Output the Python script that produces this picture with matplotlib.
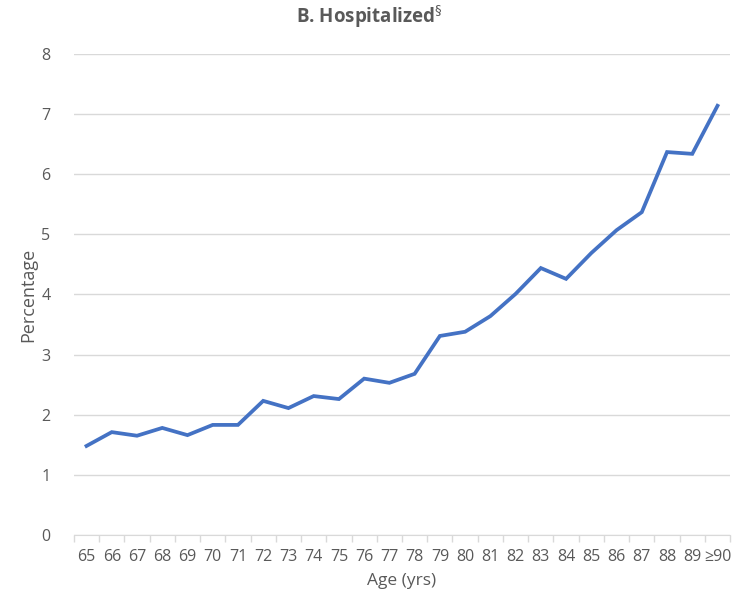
import numpy as np
import matplotlib.pyplot as plt

# data
ages = ['65', '66', '67', '68', '69', '70', '71', '72', '73', '74', '75', '76', '77',
        '78', '79', '80', '81', '82', '83', '84', '85', '86', '87', '88', '89', '≥90']
pct = [1.48, 1.71, 1.65, 1.78, 1.66, 1.83, 1.83, 2.23, 2.11, 2.31, 2.26, 2.60, 2.53,
       2.68, 3.31, 3.38, 3.64, 4.01, 4.44, 4.26, 4.69, 5.07, 5.37, 6.37, 6.34, 7.14]
yticks = [0, 1, 2, 3, 4, 5, 6, 7, 8]

plt.rcParams['font.family'] = ['Open Sans', 'DejaVu Sans']
txt = '#595959'

fig = plt.figure(figsize=(7.39, 6.01), dpi=100)
ax = fig.add_axes([0.100, 0.110, 0.888, 0.800])

x = np.arange(len(ages))
ax.plot(x, pct, color='#4472C4', linewidth=2.7, solid_joinstyle='miter')

ax.set_xlim(-0.5, len(ages) - 0.5)
ax.set_ylim(0, 8)
ax.set_yticks(yticks)
ax.yaxis.grid(True, color='#D9D9D9', linewidth=1)
ax.set_axisbelow(True)

# category labels centred, tick marks between categories
ax.set_xticks(x)
ax.set_xticklabels(ages)
ax.set_xticks(np.arange(-0.5, len(ages)), minor=True)
ax.tick_params(axis='x', which='major', length=0, pad=10, labelsize=11.5, labelcolor=txt)
ax.tick_params(axis='x', which='minor', length=5, color='#D9D9D9', width=1)
ax.tick_params(axis='y', length=0, pad=17, labelsize=11.5, labelcolor=txt)

for s in ['top', 'right', 'left']:
    ax.spines[s].set_visible(False)
ax.spines['bottom'].set_color('#D9D9D9')

ax.set_xlabel('Age (yrs)', fontsize=12.5, color=txt, labelpad=6)
ax.set_ylabel('Percentage', fontsize=13, color=txt)
ax.yaxis.set_label_coords(-0.056, 0.5)

fig.text(0.5, 0.972, r'B. Hospitalized$^{\S}$', ha='center', va='center',
         fontsize=13.5, fontweight='bold', color=txt)

fig.savefig('out.png', dpi=100)
